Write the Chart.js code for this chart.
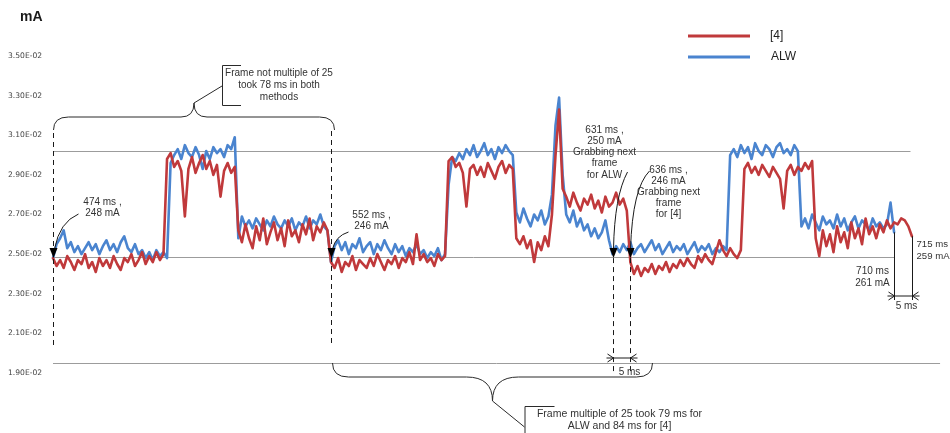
<!DOCTYPE html>
<html>
<head>
<meta charset="utf-8">
<script src="https://cdn.jsdelivr.net/npm/chart.js@4/dist/chart.umd.min.js"></script>
<style>
  html, body { margin: 0; padding: 0; background: #fff; }
  #wrap { width: 950px; height: 433px; }
</style>
</head>
<body>
<div id="wrap"><canvas id="c" width="950" height="433"></canvas></div>
<script>
// Current trace, one sample per millisecond starting at START_MS
const START_MS = 474;
const seriesNames = ['[4]', 'ALW'];

// [4] : 474 ms .. 715 ms
const red4 = [
  248, 244, 247, 243, 249, 246, 242, 247, 245, 250, 243, 246, 241, 248, 244, 247, 243, 249, 245, 242, 248, 246, 250, 244, 247, 251, 245, 249, 246, 251, 247, 250,
  298, 301, 294, 297, 292, 269, 293, 299, 291, 296, 300, 293, 297, 290, 295, 279, 292, 296, 291, 294,
  262, 256, 265, 258, 253, 264, 257, 268, 255, 261, 266, 257, 263, 254, 267, 259, 262, 256, 265, 260, 268, 257, 264, 261, 266, 262,
  246, 243, 248, 241, 246, 244, 249, 242, 247, 245, 243, 248, 244, 250, 246, 242, 247, 245, 249, 243, 248, 246, 251, 245, 260, 247, 250, 246, 248, 244, 250, 247, 249,
  297, 299, 294, 296, 291, 274, 293, 295, 290, 294, 289, 296, 292, 288, 294, 297, 291, 295, 293,
  258, 255, 259, 253, 257, 246, 256, 252, 259, 254, 270, 300, 323, 283,
  279, 274, 281, 276, 272, 278, 275, 280, 273, 277, 271, 279, 274, 276, 281, 275, 278, 272,
  246, 240, 244, 239, 243, 241, 245, 240, 244, 242, 246, 241, 245, 243, 247, 244, 248, 245, 243, 249, 246, 250, 247, 245, 251, 257, 252, 249, 253, 250, 248, 252,
  293, 296, 291, 294, 290, 295, 292, 289, 294, 291, 288, 273, 292, 295, 290, 294, 292, 296, 293, 297,
  258, 249, 262, 254, 260, 251, 264, 256, 261, 253, 266, 258, 263, 255, 268, 260, 264, 258, 265, 261, 267, 263, 266, 265, 268, 267, 264, 259
];

// ALW : 474 ms .. 710 ms
const alw = [
  248, 255, 258, 262, 253, 256, 251, 254, 250, 253, 256, 252, 255, 250, 254, 257, 252, 255, 251, 256, 259, 253, 251, 255, 250, 252, 248, 251, 247, 252, 249, 251, 248,
  296, 300, 303, 298, 305, 301, 299, 304, 300, 293, 302, 298, 304, 301, 303, 299, 305, 303, 309,
  258, 269, 264, 267, 263, 268, 265, 262, 267, 264, 269, 265, 263, 267, 264, 268, 262, 266, 264, 269, 263, 267, 265, 270, 264, 262,
  246, 254, 257, 252, 256, 250, 255, 253, 258, 251, 254, 256, 250, 255, 252, 257, 253, 250, 255, 251, 254, 249, 253, 251, 255, 250, 252, 248, 251, 249, 253, 247, 250,
  285, 299, 297, 301, 298, 303, 300, 305, 299, 302, 306, 300, 303, 298, 304, 301, 305, 302, 300,
  271, 266, 273, 268, 264, 270, 267, 272, 265, 269, 280, 315, 329, 290,
  270, 266, 272, 264, 268, 262, 265, 259, 263, 258, 261, 267, 257, 250,
  254, 251, 255, 252, 256, 250, 253, 255, 251, 254, 257, 252, 255, 250, 253, 256, 251, 254, 252, 255, 250, 253, 256, 251, 254, 252, 255, 250, 253, 251, 254, 252,
  300, 303, 299, 305, 301, 304, 298, 306, 302, 300, 305, 303, 299, 304, 306, 301, 303, 300, 305, 302,
  264, 268, 263, 270, 266, 262, 269, 265, 267, 263, 270, 264, 268, 262, 266, 269, 263, 267, 265, 262, 268, 264, 266, 263, 265, 276, 261
];

// Vertical axis
const yTickValues = [190, 210, 230, 250, 270, 290, 310, 330, 350];
const yTickLabels = ['1.90E-02', '2.10E-02', '2.30E-02', '2.50E-02', '2.70E-02', '2.90E-02', '3.10E-02', '3.30E-02', '3.50E-02'];

// Horizontal reference levels and where each one stops (ms)
const refLevels = [302, 248.5, 195];
const refLineEndMs = [714.6, 710, 722.9];

// Frame boundaries that are called out
const frameMarks = [474, 552, 631, 636, 710, 715];

const toPoints = arr => arr.map((v, i) => ({ x: START_MS + i, y: v }));
const RED = '#c0393b';
const BLUE = '#4a84cf';

const decor = {
  id: 'decor',
  beforeDatasetsDraw(chart) {
    const { ctx, scales: { x, y } } = chart;
    ctx.save();
    ctx.strokeStyle = '#9c9c9c';
    ctx.lineWidth = 1;
    refLevels.forEach((v, i) => {
      const yy = Math.round(y.getPixelForValue(v)) + 0.5;
      ctx.beginPath();
      ctx.moveTo(x.getPixelForValue(START_MS), yy);
      ctx.lineTo(x.getPixelForValue(refLineEndMs[i]), yy);
      ctx.stroke();
    });
    ctx.restore();
  },
  afterDatasetsDraw(chart) {
    const { ctx, scales: { x, y } } = chart;
    const X = t => Math.round(x.getPixelForValue(t)) + 0.5;
    const Y = v => y.getPixelForValue(v);
    const at = (arr, t) => arr[t - START_MS];

    ctx.save();
    ctx.font = '10px "Liberation Sans", Arial, sans-serif';
    ctx.fillStyle = '#333';
    ctx.strokeStyle = '#1a1a1a';
    ctx.lineWidth = 1;
    ctx.textAlign = 'center';
    ctx.textBaseline = 'middle';

    const dashed = (xx, y0, y1) => {
      ctx.save(); ctx.setLineDash([5, 4]);
      ctx.beginPath(); ctx.moveTo(xx, y0); ctx.lineTo(xx, y1); ctx.stroke();
      ctx.restore();
    };
    const solid = (x0, y0, x1, y1) => {
      ctx.beginPath(); ctx.moveTo(x0, y0); ctx.lineTo(x1, y1); ctx.stroke();
    };
    const tri = (xt, yt) => {
      ctx.save(); ctx.fillStyle = '#000';
      ctx.beginPath(); ctx.moveTo(xt, yt); ctx.lineTo(xt - 4, yt - 10); ctx.lineTo(xt + 4, yt - 10);
      ctx.closePath(); ctx.fill(); ctx.restore();
    };
    const curve = (x0, y0, cx, cy, x1, y1) => {
      ctx.beginPath(); ctx.moveTo(x0, y0); ctx.quadraticCurveTo(cx, cy, x1, y1); ctx.stroke();
    };
    const lines = (arr, cx, cy, dy) => arr.forEach((s, i) => ctx.fillText(s, cx, cy + i * dy));
    const dim = (xa, xb, yy) => {
      solid(xa - 7, yy, xb + 7, yy);
      ctx.beginPath();
      ctx.moveTo(xa - 6, yy - 4); ctx.lineTo(xa, yy); ctx.lineTo(xa - 6, yy + 4);
      ctx.moveTo(xb + 6, yy - 4); ctx.lineTo(xb, yy); ctx.lineTo(xb + 6, yy + 4);
      ctx.stroke();
    };

    const [t0, t1, t2, t3, t4, t5] = frameMarks;
    const xa = X(t0), xb = X(t1), xc = X(t2), xd = X(t3), xe = X(t4), xf = X(t5);
    const tipY = Y(refLevels[1]) + 1;

    // frame start at 474 ms
    dashed(xa, 133, 347);
    curve(xa + 25, 214, xa + 6, 222, xa + 1, tipY - 9);
    tri(xa, tipY);
    lines([t0 + ' ms ,', at(red4, t0) + ' mA'], xa + 49, 202, 11);

    // frame start at 552 ms
    dashed(xb, 131, 347);
    curve(xb + 17, 232, xb + 4, 236, xb + 1, tipY - 9);
    tri(xb, tipY);
    lines([t1 + ' ms ,', at(red4, t1) + ' mA'], xb + 40, 215, 11);

    // next frame grabbed: ALW at 631 ms, [4] at 636 ms
    dashed(xc, tipY, 372);
    dashed(xd, tipY, 372);
    curve(xc + 14, 172, xc + 1, 196, xc, tipY - 9);
    curve(xd + 19, 171, xd + 2, 188, xd, tipY - 9);
    tri(xc, tipY);
    tri(xd, tipY);
    lines([t2 + ' ms ,', at(alw, t2) + ' mA', 'Grabbing next', 'frame', 'for ALW'], xc - 9, 130, 11.2);
    lines([t3 + ' ms ,', at(red4, t3) + ' mA', 'Grabbing next', 'frame', 'for [4]'], xd + 38, 170, 11);
    dim(xc, xd, 358);
    ctx.fillText((t3 - t2) + ' ms', xc + 16, 372);

    // trace ends: ALW at 710 ms, [4] at 715 ms
    solid(xe, Y(at(alw, t4)), xe, 300);
    solid(xf, Y(at(red4, t5)), xf, 300);
    dim(xe, xf, 296);
    ctx.fillText((t5 - t4) + ' ms', xe + 12, 306);
    lines([t4 + ' ms', at(alw, t4) + ' mA'], xe - 22, 271, 12);
    ctx.textAlign = 'left';
    ctx.font = '9.6px "Liberation Sans", Arial, sans-serif';
    lines([t5 + ' ms', at(red4, t5) + ' mA'], xf + 4, 244, 12.5);
    ctx.font = '10px "Liberation Sans", Arial, sans-serif';
    ctx.textAlign = 'center';

    // upper brace over the 474 .. 552 ms frame
    ctx.strokeStyle = '#2a2a2a';
    {
      const l = xa, r = X(t1) + 3, m = (l + r) / 2, ye = 130, yf = 117, yt = 103;
      ctx.beginPath();
      ctx.moveTo(l, ye);
      ctx.quadraticCurveTo(l, yf, l + 15, yf);
      ctx.lineTo(m - 13, yf);
      ctx.quadraticCurveTo(m, yf, m, yt);
      ctx.quadraticCurveTo(m, yf, m + 13, yf);
      ctx.lineTo(r - 15, yf);
      ctx.quadraticCurveTo(r, yf, r, ye);
      ctx.stroke();
      solid(m, yt, m + 28, 86);
      ctx.beginPath();
      ctx.moveTo(m + 47, 65.5); ctx.lineTo(m + 28.5, 65.5); ctx.lineTo(m + 28.5, 105.5); ctx.lineTo(m + 47, 105.5);
      ctx.stroke();
      lines(['Frame not multiple of 25', 'took 78 ms in both', 'methods'], m + 85, 73, 12);
    }

    // lower brace under the 552 .. 636 ms frame
    {
      const l = xb + 1, r = xd + 22, m = (l + r) / 2, ye = 363, yf = 377, yt = 401;
      ctx.beginPath();
      ctx.moveTo(l, ye);
      ctx.quadraticCurveTo(l, yf, l + 16, yf);
      ctx.lineTo(m - 26, yf);
      ctx.quadraticCurveTo(m, yf, m, yt);
      ctx.quadraticCurveTo(m, yf, m + 26, yf);
      ctx.lineTo(r - 16, yf);
      ctx.quadraticCurveTo(r, yf, r, ye);
      ctx.stroke();
      solid(m, yt, m + 32, 427);
      ctx.beginPath();
      ctx.moveTo(m + 62, 406.5); ctx.lineTo(m + 32.5, 406.5); ctx.lineTo(m + 32.5, 440);
      ctx.stroke();
      ctx.font = '10.5px "Liberation Sans", Arial, sans-serif';
      lines(['Frame multiple of 25 took 79 ms for', 'ALW and 84 ms for [4]'], m + 127, 414, 12.5);
    }
    ctx.restore();
  },
  afterDraw(chart) {
    const { ctx } = chart;
    ctx.save();
    // unit caption
    ctx.font = 'bold 14px "Liberation Sans", Arial, sans-serif';
    ctx.fillStyle = '#1a1a1a';
    ctx.textBaseline = 'middle';
    ctx.textAlign = 'left';
    ctx.fillText('mA', 20, 17);
    // legend
    ctx.font = '12px "Liberation Sans", Arial, sans-serif';
    chart.data.datasets.forEach((ds, i) => {
      const yy = 36 + i * 21;
      ctx.strokeStyle = ds.borderColor;
      ctx.lineWidth = 3;
      ctx.beginPath(); ctx.moveTo(688, yy); ctx.lineTo(750, yy); ctx.stroke();
      ctx.fillStyle = '#222';
      ctx.fillText(ds.label, i === 0 ? 770 : 771, yy);
    });
    ctx.restore();
  }
};

new Chart(document.getElementById('c'), {
  type: 'line',
  data: {
    datasets: [
      { label: seriesNames[0], data: toPoints(red4), borderColor: RED, backgroundColor: RED },
      { label: seriesNames[1], data: toPoints(alw), borderColor: BLUE, backgroundColor: BLUE }
    ]
  },
  options: {
    responsive: false,
    animation: false,
    devicePixelRatio: 1,
    layout: { padding: { left: 8, right: 10, top: 20, bottom: 20 } },
    elements: {
      line: { borderWidth: 2.6, tension: 0, borderJoinStyle: 'round', borderCapStyle: 'round' },
      point: { radius: 0, hoverRadius: 0 }
    },
    plugins: { legend: { display: false }, tooltip: { enabled: false } },
    scales: {
      x: { type: 'linear', min: 473.16, max: 722.88, display: false },
      y: {
        type: 'linear',
        min: 169.8,
        max: 368.17,
        afterBuildTicks: s => { s.ticks = yTickValues.map(v => ({ value: v })); },
        afterFit: s => { s.width = 42; },
        grid: { display: false },
        border: { display: false },
        ticks: {
          autoSkip: false,
          crossAlign: 'far',
          padding: 0,
          color: '#444',
          font: { family: '"DejaVu Sans", sans-serif', size: 7.6 },
          callback: (v, i) => yTickLabels[i]
        }
      }
    }
  },
  plugins: [decor]
});
</script>
</body>
</html>
